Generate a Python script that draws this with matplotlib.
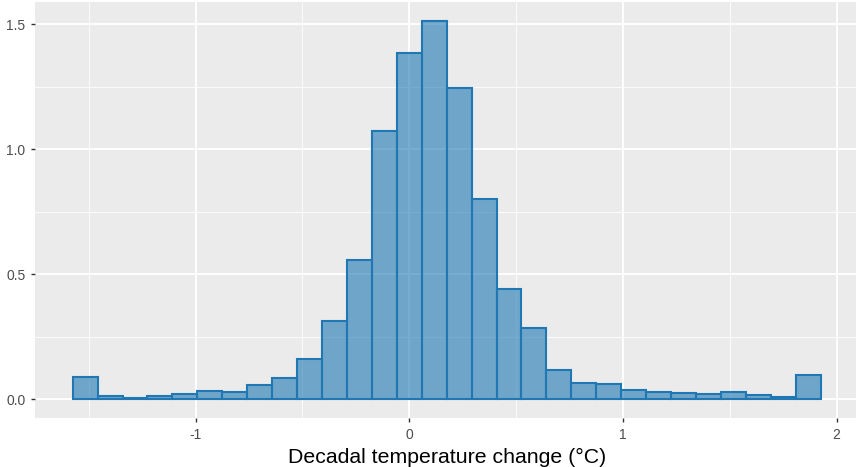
import numpy as np
import matplotlib
matplotlib.use("Agg")
import matplotlib.pyplot as plt
from matplotlib.ticker import MultipleLocator

# histogram of decadal temperature change, 30 bins
bin_left = -1.575
bin_width = 0.11667
density = [0.089, 0.013, 0.005, 0.013, 0.021, 0.031, 0.027, 0.056, 0.085, 0.160,
           0.312, 0.556, 1.073, 1.383, 1.511, 1.243, 0.799, 0.439, 0.284, 0.115,
           0.064, 0.059, 0.035, 0.029, 0.025, 0.019, 0.028, 0.017, 0.007, 0.096]
x_ticks = [-1, 0, 1, 2]
y_ticks = [0.0, 0.5, 1.0, 1.5]

plt.rcParams['font.family'] = ['Liberation Sans', 'DejaVu Sans']

fig = plt.figure(figsize=(8.56, 4.67), dpi=100)
W, H = 856, 467
ax = fig.add_axes([35.3 / W, 49.1 / H, (858 - 35.3) / W, (417.9 - 2.3) / H])
ax.set_facecolor('#EBEBEB')
for s in ax.spines.values():
    s.set_visible(False)

lefts = bin_left + bin_width * np.arange(len(density))
ax.bar(lefts, density, width=bin_width, align='edge',
       facecolor=(0.122, 0.467, 0.706, 0.6), edgecolor='#1f77b4',
       linewidth=1.5, zorder=3)

ax.set_xlim(-1.75, 2.1)
ax.set_ylim(-0.0756, 1.587)
ax.set_xticks(x_ticks)
ax.set_xticklabels(['-1', '0', '1', '2'])
ax.set_yticks(y_ticks)
ax.set_yticklabels(['0.0', '0.5', '1.0', '1.5'])
ax.xaxis.set_minor_locator(MultipleLocator(0.5))
ax.yaxis.set_minor_locator(MultipleLocator(0.25))
ax.grid(which='major', color='white', linewidth=1.3, zorder=0)
ax.grid(which='minor', color='white', linewidth=0.6, zorder=0)
ax.set_axisbelow(True)
ax.tick_params(which='major', length=3, width=1, color='#333333',
               labelcolor='#4D4D4D', labelsize=10, pad=4)
ax.tick_params(which='minor', length=0)

ax.set_xlabel('Decadal temperature change (°C)', fontsize=15.3, color='black', labelpad=4.5)

fig.savefig('out.png', dpi=100)
